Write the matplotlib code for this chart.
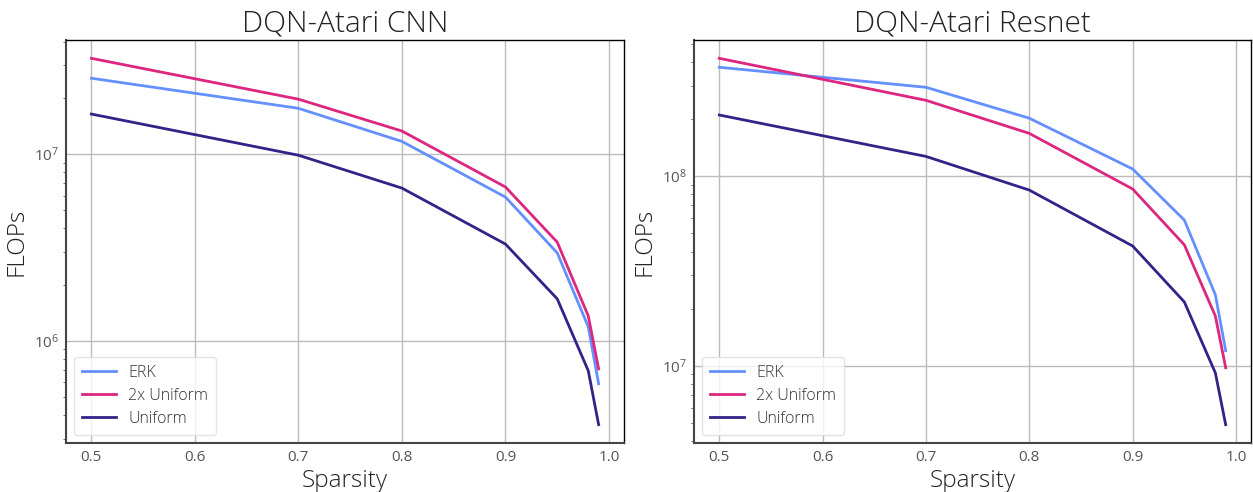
import matplotlib
matplotlib.use("Agg")
import matplotlib.pyplot as plt

plt.rcParams['font.family'] = ['Open Sans', 'DejaVu Sans']

sparsity = [0.5, 0.7, 0.8, 0.9, 0.95, 0.98, 0.99]

cnn_erk = [2.55e7, 1.76e7, 1.17e7, 5.89e6, 2.96e6, 1.19e6, 5.89e5]
cnn_2x = [3.26e7, 1.97e7, 1.33e7, 6.67e6, 3.38e6, 1.36e6, 7.08e5]
cnn_uni = [1.64e7, 9.87e6, 6.58e6, 3.30e6, 1.68e6, 6.92e5, 3.56e5]

res_erk = [3.75e8, 2.94e8, 2.02e8, 1.09e8, 5.86e7, 2.37e7, 1.20e7]
res_2x = [4.18e8, 2.51e8, 1.68e8, 8.55e7, 4.34e7, 1.83e7, 9.76e6]
res_uni = [2.10e8, 1.27e8, 8.44e7, 4.28e7, 2.17e7, 9.18e6, 4.89e6]

titles = ["DQN-Atari CNN", "DQN-Atari Resnet"]
labels = ["ERK", "2x Uniform", "Uniform"]
colors = ["#648FFF", "#DC267F", "#332288"]

fig = plt.figure(figsize=(12.53, 4.92), dpi=100)
ax1 = fig.add_axes([66/1253, 1-443/492, 558/1253, 403/492])
ax2 = fig.add_axes([694/1253, 1-443/492, 557/1253, 403/492])

for ax, title, series in [(ax1, titles[0], [cnn_erk, cnn_2x, cnn_uni]),
                          (ax2, titles[1], [res_erk, res_2x, res_uni])]:
    for s, lab, c in zip(series, labels, colors):
        ax.plot(sparsity, s, color=c, lw=2, label=lab)
    ax.set_yscale('log')
    ax.set_title(title, fontsize=21.5, fontweight='light', color='#222222')
    ax.set_xlabel("Sparsity", fontsize=17.5, fontweight='light', color='#222222', labelpad=3)
    ax.set_ylabel("FLOPs", fontsize=17.5, fontweight='light', color='#222222')
    ax.grid(True, which='major', color='#bbbbbb', lw=1)
    ax.tick_params(axis='both', which='major', labelsize=11, labelcolor='#555555', length=0, pad=5)
    ax.tick_params(axis='y', which='minor', length=2, color='#555555', labelleft=False)
    ax.set_xticks([0.5, 0.6, 0.7, 0.8, 0.9, 1.0])
    ax.set_xticklabels(["0.5", "0.6", "0.7", "0.8", "0.9", "1.0"])
    for sp in ['top', 'right']:
        ax.spines[sp].set_color('black')
        ax.spines[sp].set_linewidth(1)
    for sp in ['left', 'bottom']:
        ax.spines[sp].set_color('#444444')
        ax.spines[sp].set_linewidth(1.5)
    leg = ax.legend(loc='lower left', fontsize=11.5, frameon=True, fancybox=True,
                    borderpad=0.5, handlelength=2.1, labelspacing=0.45)
    leg.get_frame().set_edgecolor('#dddddd')
    for t in leg.get_texts():
        t.set_color('#333333')
        t.set_fontweight('light')

fig.savefig("out.png", dpi=100)
